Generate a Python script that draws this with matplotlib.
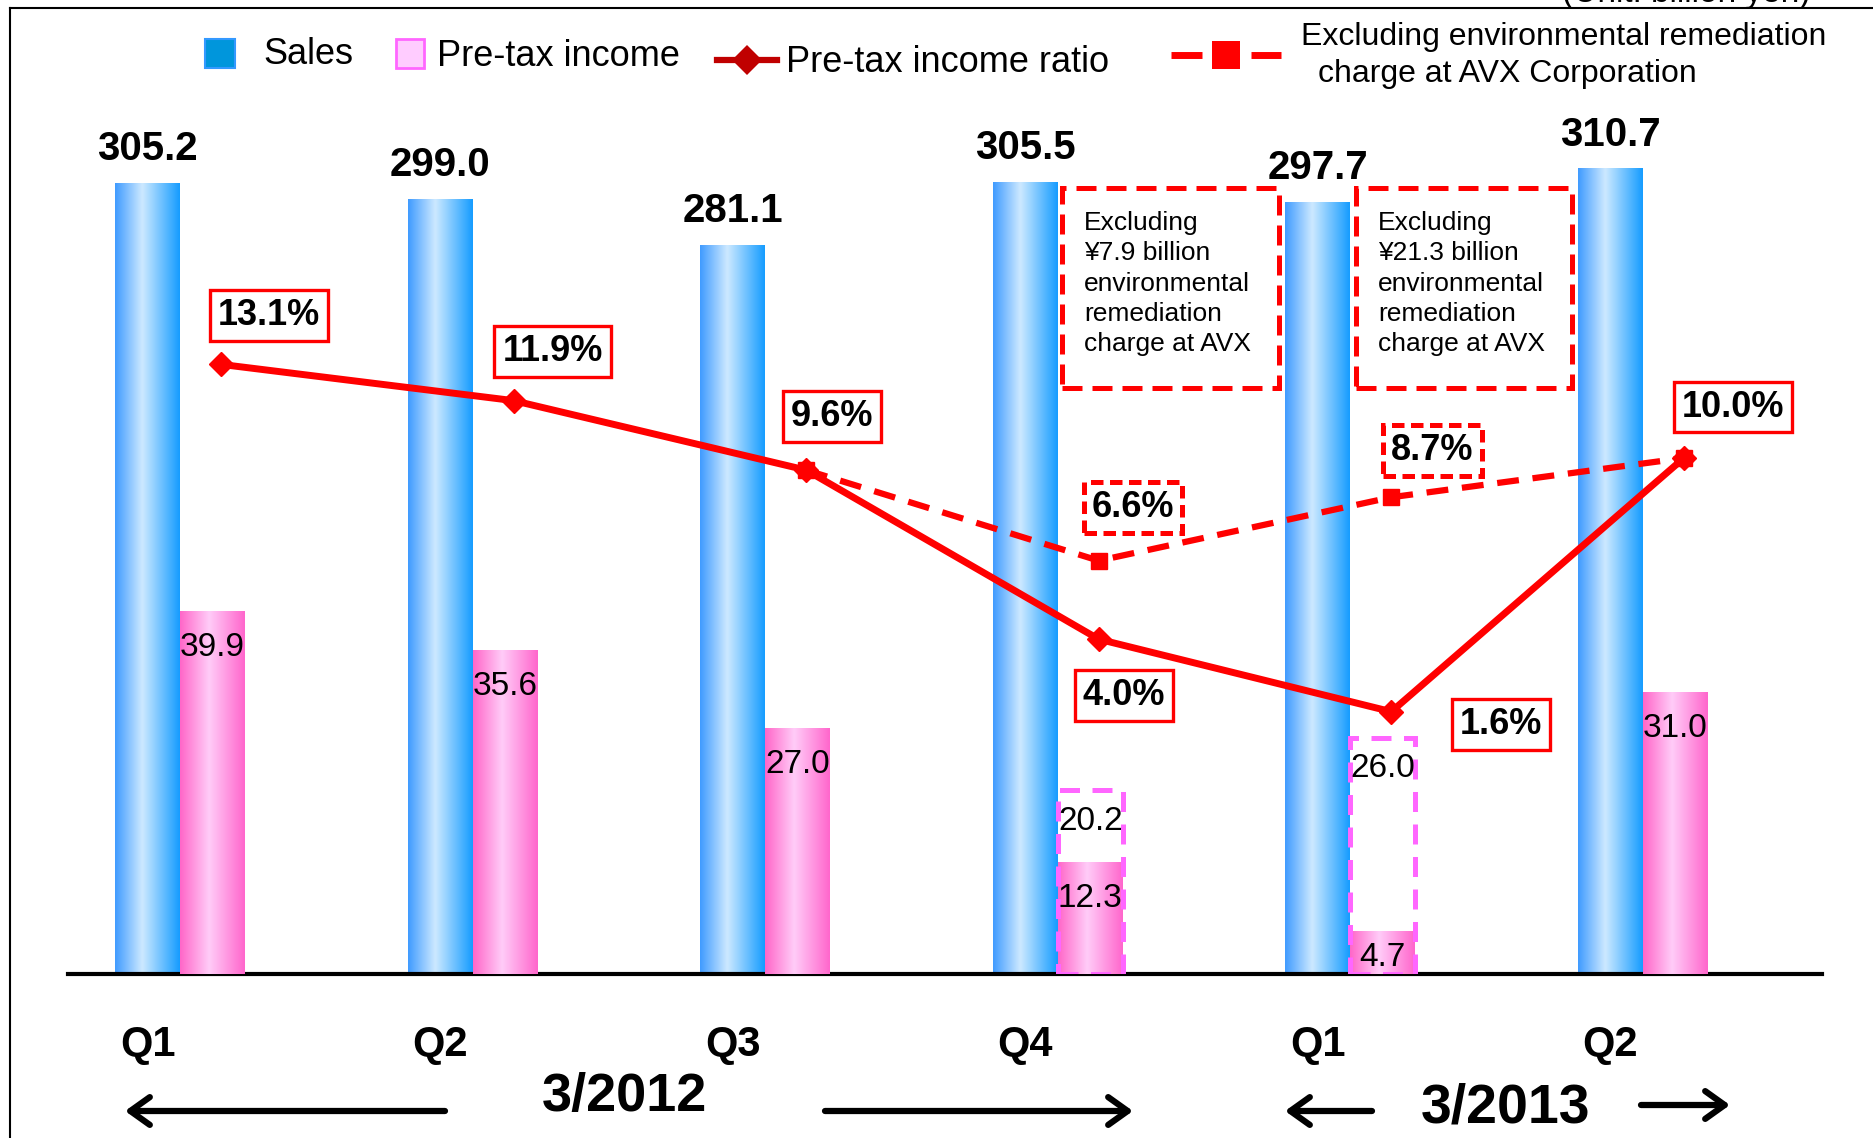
import numpy as np
import matplotlib
matplotlib.use("Agg")
import matplotlib.pyplot as plt
from matplotlib.colors import LinearSegmentedColormap
from matplotlib.patches import Rectangle
from matplotlib.lines import Line2D

# data (billion yen / %)
quarters = ["Q1", "Q2", "Q3", "Q4", "Q1", "Q2"]
sales = [305.2, 299.0, 281.1, 305.5, 297.7, 310.7]
pretax = [39.9, 35.6, 27.0, 12.3, 4.7, 31.0]
pretax_excl = [None, None, None, 20.2, 26.0, None]
ratio = [13.1, 11.9, 9.6, 4.0, 1.6, 10.0]
ratio_excl = [None, None, 9.6, 6.6, 8.7, 10.0]
excl_labels = [None, None, None, "6.6%", "8.7%", None]
notes = ["Excluding\n\u00a57.9 billion\nenvironmental\nremediation\ncharge at AVX",
         "Excluding\n\u00a521.3 billion\nenvironmental\nremediation\ncharge at AVX"]
years = ["3/2012", "3/2013"]

plt.rcParams['font.family'] = ['Liberation Sans', 'DejaVu Sans']

W, H = 1874, 1138
def fx(x):
    return x / W
def fy(y):
    return 1 - y / H

fig = plt.figure(figsize=(W / 100, H / 100), dpi=100)
fig.patch.set_facecolor('white')

# axes box in pixels: left 68, right 1822, baseline 974, top 0
ax = fig.add_axes([fx(68), fy(974), (1822 - 68) / W, 974 / H])
ax2 = ax.twinx()
ax3 = ax.twinx()
for a in (ax, ax2, ax3):
    a.patch.set_visible(False)
    for s in a.spines.values():
        s.set_visible(False)
    a.set_yticks([])

x = np.arange(len(sales))
w = 0.222
xlim = (-0.3828, 5.612)

sales_cmap = LinearSegmentedColormap.from_list(
    "s", [(0, "#3F9BFF"), (0.42, "#CDE9FF"), (1, "#159CFF")])
pink_cmap = LinearSegmentedColormap.from_list(
    "p", [(0, "#FF66C8"), (0.45, "#FFCCF8"), (1, "#FF66CC")])
grad = np.linspace(0, 1, 256).reshape(1, -1)

def grad_fill(axis, bars, cmap):
    for r in bars:
        x0, w0, h0 = r.get_x(), r.get_width(), r.get_height()
        axis.imshow(grad, cmap=cmap, extent=(x0, x0 + w0, 0, h0),
                    aspect='auto', interpolation='bicubic', zorder=2)
        r.set_visible(False)

sb = ax.bar(x - w / 2, sales, w, color="#3F9BFF")
grad_fill(ax, sb, sales_cmap)
for xi, v in zip(x, sales):
    ax.annotate(f"{v:.1f}", (xi - w / 2, v), xytext=(0, 34), textcoords='offset pixels',
                ha='center', va='center', fontsize=29, fontweight='bold')

pb = ax2.bar(x + w / 2, pretax, w, color="#FF88DD")
grad_fill(ax2, pb, pink_cmap)
for xi, v, e in zip(x, pretax, pretax_excl):
    hpx = v * 9.09
    off = -min(36, hpx / 2 + 5)
    ax2.annotate(f"{v:.1f}", (xi + w / 2, v), xytext=(0, off), textcoords='offset pixels',
                 ha='center', va='center', fontsize=24, zorder=5)
    if e is not None:
        ax2.add_patch(Rectangle((xi, 0), w, e, fill=False, ec="#FF66FF", lw=3.6,
                                ls=(0, (4, 2.5)), zorder=4))
        ax2.annotate(f"{e:.1f}", (xi + w / 2, e), xytext=(0, -31), textcoords='offset pixels',
                     ha='center', va='center', fontsize=24, zorder=5)

# pre-tax income ratio lines
rx = x + 0.14
ex = [xi for xi, v in zip(rx, ratio_excl) if v is not None]
ev = [v for v in ratio_excl if v is not None]
ax3.plot(ex, ev, color="#FF0000", lw=4.5, ls=(0, (3.5, 2.2)), marker='s', ms=12, zorder=5)
ax3.plot(rx, ratio, color="#FF0000", lw=5, marker='D', ms=12, zorder=6)

ratio_off = [(48, 49), (39, 49), (26, 54), (25, -56), (110, -13), (49, 51)]
for xi, v, o in zip(rx, ratio, ratio_off):
    ax3.annotate(f"{v:.1f}%", (xi, v), xytext=o, textcoords='offset pixels',
                 ha='center', va='center', fontsize=26, fontweight='bold', zorder=8,
                 bbox=dict(boxstyle='square,pad=0.22', fc='white', ec='#FF0000', lw=2.4))
excl_off = [None, None, None, (34, 53), (41, 47), None]
for xi, v, t, o in zip(rx, ratio_excl, excl_labels, excl_off):
    if t is None:
        continue
    ax3.annotate(t, (xi, v), xytext=o, textcoords='offset pixels',
                 ha='center', va='center', fontsize=26, fontweight='bold', zorder=8,
                 bbox=dict(boxstyle='square,pad=0.22', fc='white', ec='#FF0000', lw=3.6,
                           ls=(0, (2.5, 1.3))))

ax.set_xlim(xlim)
ax2.set_xlim(xlim)
ax3.set_xlim(xlim)
ax.set_ylim(0, 974 / 2.5917)
ax2.set_ylim(0, 974 / 9.09)
ax3.set_ylim(-214 / 30.2, 760 / 30.2)

ax.axhline(0, color='black', lw=3, clip_on=False, zorder=10)
ax.set_xticks(x - w / 2)
ax.set_xticklabels(quarters, fontsize=30, fontweight='bold')
ax.tick_params(axis='x', length=0, pad=37)

# notes boxes
for (x0, x1), note in zip([(1062, 1279), (1356, 1572)], notes):
    fig.patches.append(Rectangle((fx(x0), fy(388)), (x1 - x0) / W, 200 / H, fill=False,
                                 ec='#FF0000', lw=3.6, ls=(0, (4, 2)),
                                 transform=fig.transFigure, figure=fig))
    fig.text(fx(x0 + 22), fy(211), note, fontsize=19, va='top', ha='left', linespacing=1.33)

# legend
fig.patches.append(Rectangle((fx(205), fy(68)), 30 / W, 29 / H, fc='#0096DC', ec='#3399FF',
                             lw=1.5, transform=fig.transFigure, figure=fig))
fig.text(fx(263), fy(55), "Sales", fontsize=26, va='center')
fig.patches.append(Rectangle((fx(396), fy(68)), 28 / W, 29 / H, fc='#FFCCFF', ec='#FF66FF',
                             lw=2, transform=fig.transFigure, figure=fig))
fig.text(fx(437), fy(57), "Pre-tax income", fontsize=26, va='center')
fig.lines.append(Line2D([fx(717), fx(777)], [fy(60), fy(60)], color='#C00000', lw=4.5,
                        transform=fig.transFigure, figure=fig))
fig.lines.append(Line2D([fx(747)], [fy(60)], color='#C00000', marker='D', ms=15, mew=0,
                        transform=fig.transFigure, figure=fig))
fig.text(fx(786), fy(63), "Pre-tax income ratio", fontsize=26, va='center')
for a0, a1 in [(1171, 1202), (1251, 1281)]:
    fig.lines.append(Line2D([fx(a0), fx(a1)], [fy(55), fy(55)], color='#FF0000', lw=5,
                            solid_capstyle='butt', transform=fig.transFigure, figure=fig))
fig.lines.append(Line2D([fx(1226)], [fy(55)], color='#FF0000', marker='s', ms=20, mew=0,
                        transform=fig.transFigure, figure=fig))
fig.text(fx(1301), fy(37), "Excluding environmental remediation", fontsize=23, va='center')
fig.text(fx(1318), fy(74), "charge at AVX Corporation", fontsize=23, va='center')

# fiscal year captions with arrows
fig.text(fx(624), fy(1097), years[0], fontsize=39, fontweight='bold', ha='center', va='center')
fig.text(fx(1506), fy(1109), years[1], fontsize=40, fontweight='bold', ha='center', va='center')
for tail, head, yy in [(445, 125, 1111), (825, 1133, 1111), (1372, 1285, 1111), (1641, 1730, 1105)]:
    ax.annotate("", xy=(head, H - yy), xytext=(tail, H - yy), xycoords='figure pixels',
                textcoords='figure pixels',
                arrowprops=dict(arrowstyle='->,head_length=0.7,head_width=0.5', lw=4.5,
                                color='black', mutation_scale=20, shrinkA=0, shrinkB=0))

# frame and clipped unit caption at the top
fig.lines.append(Line2D([fx(10), 1], [fy(8), fy(8)], color='black', lw=1.5,
                        transform=fig.transFigure, figure=fig))
fig.lines.append(Line2D([fx(10), fx(10)], [fy(8), 0], color='black', lw=1.5,
                        transform=fig.transFigure, figure=fig))
fig.text(fx(1562), fy(2), "(Unit: billion yen)", fontsize=24, va='baseline')

fig.savefig("out.png", dpi=100)
